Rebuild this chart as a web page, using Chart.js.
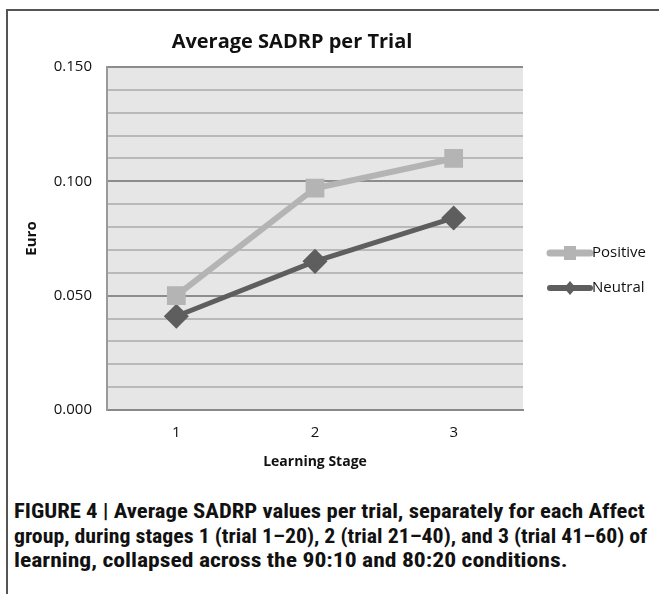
<!DOCTYPE html>
<html>
<head>
<meta charset="utf-8">
<script src="https://cdn.jsdelivr.net/npm/chart.js@4.4.1/dist/chart.umd.min.js"></script>
<style>
  body { margin: 0; background: #fff; width: 659px; height: 594px; overflow: hidden; position: relative; }
  #frame { position: absolute; left: 6px; top: 9px; right: -5px; bottom: -5px; border-left: 2px solid #555; border-top: 2px solid #555; }
  #box { position: absolute; left: 7px; top: 10px; width: 652px; height: 470px; }
  #caption { position: absolute; left: 14px; top: 499px; white-space: nowrap; font-family: "Liberation Sans Narrow", "Roboto Condensed", "Liberation Sans", sans-serif; font-weight: bold; font-size: 20px; line-height: 24.5px; color: #111; }
  #caption span { display: block; transform-origin: left top; }
</style>
</head>
<body>
<div id="frame"></div>
<div id="box"><canvas id="sadrpChart" width="652" height="470"></canvas></div>
<div id="caption">
  <span style="transform: scaleX(1.135)">FIGURE 4 | Average SADRP values per trial, separately for each Affect</span>
  <span style="transform: scaleX(1.09)">group, during stages 1 (trial 1–20), 2 (trial 21–40), and 3 (trial 41–60) of</span>
  <span style="transform: scaleX(1.18)">learning, collapsed across the 90:10 and 80:20 conditions.</span>
</div>
<script>
const stages = ['1', '2', '3'];
const positive = [0.050, 0.097, 0.110];
const neutral = [0.041, 0.065, 0.084];

const font = '"Open Sans", "Lato", sans-serif';

// plot background + title + legend, drawn like the Excel original
const excelBits = {
  id: 'excelBits',
  beforeDraw(chart) {
    const { ctx, chartArea: a } = chart;
    ctx.save();
    ctx.fillStyle = '#e6e6e6';
    ctx.fillRect(a.left, a.top, a.right - a.left, a.bottom - a.top);
    ctx.restore();
  },
  afterDraw(chart) {
    const { ctx, chartArea: a } = chart;
    ctx.save();
    ctx.fillStyle = '#111';
    ctx.font = 'bold 20px ' + font;
    ctx.textAlign = 'center';
    ctx.textBaseline = 'middle';
    ctx.fillText('Average SADRP per Trial', 285, 32);

    const x0 = a.right + 27;
    chart.data.datasets.forEach((ds, i) => {
      const y = 243 + i * 35;
      ctx.strokeStyle = ds.borderColor;
      ctx.lineWidth = ds.borderWidth + 1;
      ctx.lineCap = 'round';
      ctx.beginPath();
      ctx.moveTo(x0, y);
      ctx.lineTo(x0 + 40, y);
      ctx.stroke();
      ctx.fillStyle = ds.pointBackgroundColor;
      if (ds.pointStyle === 'rect') {
        ctx.fillRect(x0 + 14, y - 7, 12, 14);
      } else {
        ctx.beginPath();
        ctx.moveTo(x0 + 20, y - 7);
        ctx.lineTo(x0 + 26, y);
        ctx.lineTo(x0 + 20, y + 7);
        ctx.lineTo(x0 + 14, y);
        ctx.closePath();
        ctx.fill();
      }
      ctx.fillStyle = '#111';
      ctx.font = '15px ' + font;
      ctx.textAlign = 'left';
      ctx.fillText(ds.label, x0 + 42, y);
    });
    ctx.restore();
  }
};

new Chart(document.getElementById('sadrpChart').getContext('2d'), {
  type: 'line',
  data: {
    labels: stages,
    datasets: [{
      label: 'Positive',
      data: positive,
      borderColor: '#b4b4b4',
      backgroundColor: '#b4b4b4',
      pointBackgroundColor: '#b4b4b4',
      pointBorderColor: '#b4b4b4',
      borderWidth: 6,
      pointStyle: 'rect',
      pointRadius: 9,
      tension: 0
    }, {
      label: 'Neutral',
      data: neutral,
      borderColor: '#5e5e5e',
      backgroundColor: '#5e5e5e',
      pointBackgroundColor: '#5e5e5e',
      pointBorderColor: '#5e5e5e',
      borderWidth: 5,
      pointStyle: 'rectRot',
      pointRadius: 9,
      tension: 0
    }]
  },
  options: {
    responsive: false,
    animation: false,
    layout: { padding: { left: 0, top: 57, right: 136, bottom: 0 } },
    plugins: {
      legend: { display: false },
      title: { display: false },
      tooltip: { enabled: false }
    },
    scales: {
      x: {
        offset: true,
        grid: { display: false, drawTicks: false },
        border: { color: '#8a8a8a', width: 2 },
        ticks: { color: '#111', font: { family: font, size: 15 }, padding: 14 },
        title: { display: true, text: 'Learning Stage', color: '#111', font: { family: font, size: 14, weight: 'bold' }, padding: { top: 8, bottom: 10 } },
        afterFit(s) { s.height = 70; }
      },
      y: {
        min: 0,
        max: 0.15,
        grid: {
          drawTicks: false,
          color: c => (Math.round(c.tick.value * 1000) % 50 === 0 ? '#8c8c8c' : '#b9b9b9'),
          lineWidth: 2
        },
        border: { color: '#9a9a9a', width: 2 },
        ticks: {
          stepSize: 0.01,
          autoSkip: false,
          padding: 15,
          color: '#111',
          font: { family: font, size: 15 },
          callback: v => (Math.round(v * 1000) % 50 === 0 ? v.toFixed(3) : '')
        },
        title: { display: true, text: 'Euro', color: '#111', font: { family: font, size: 15, weight: 'bold' }, padding: { top: 16, bottom: 0 } },
        afterFit(s) { s.width = 100; }
      }
    }
  },
  plugins: [excelBits]
});
</script>
</body>
</html>
